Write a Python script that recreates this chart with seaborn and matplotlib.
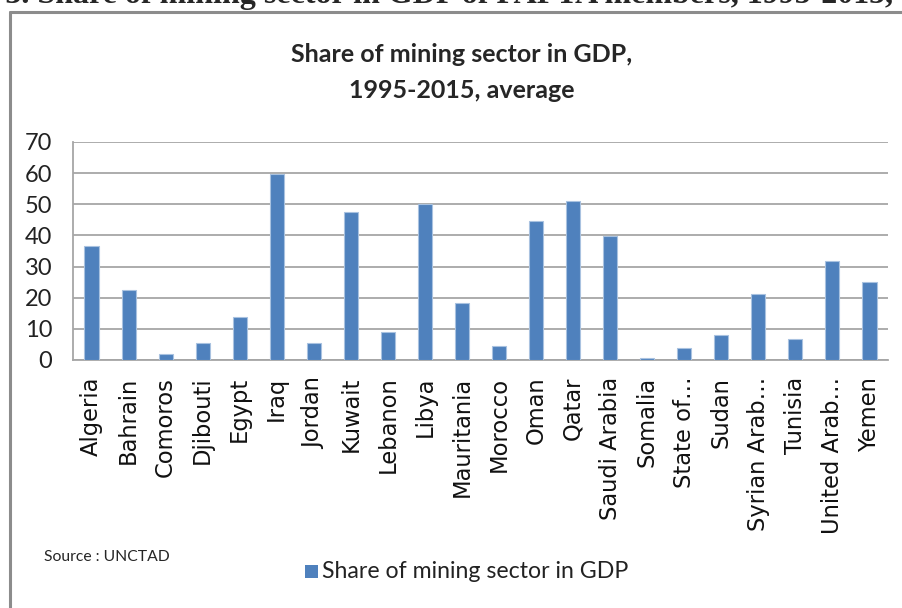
import seaborn as sns
from matplotlib import pyplot as plt
from matplotlib.patches import Rectangle
from matplotlib.lines import Line2D
import numpy as np

countries = ['Algeria', 'Bahrain', 'Comoros', 'Djibouti', 'Egypt', 'Iraq', 'Jordan',
             'Kuwait', 'Lebanon', 'Libya', 'Mauritania', 'Morocco', 'Oman', 'Qatar',
             'Saudi Arabia', 'Somalia', 'State of…', 'Sudan', 'Syrian Arab…',
             'Tunisia', 'United Arab…', 'Yemen']
share = [36.5, 22.4, 1.9, 5.6, 13.9, 59.7, 5.6, 47.6, 9.0, 50.1, 18.3, 4.6,
         44.5, 51.2, 39.8, 0.6, 3.7, 8.1, 21.1, 6.8, 31.7, 24.9]
yticks = [0, 10, 20, 30, 40, 50, 60, 70]

sns.set_style('white')
plt.rcParams['font.family'] = ['Lato', 'DejaVu Sans']

fig = plt.figure(figsize=(9.03, 6.08), dpi=100)
W, H = 903, 608
ax = fig.add_axes([73/W, 1-360/H, (888-73)/W, (360-142)/H])

# chart frame (top and left edges visible)
fig.lines.append(Line2D([10/W, 1.0], [1-11.5/H, 1-11.5/H], transform=fig.transFigure,
                        color='#8c8c8c', linewidth=2.2))
fig.lines.append(Line2D([10/W, 10/W], [0, 1-11.5/H], transform=fig.transFigure,
                        color='#8c8c8c', linewidth=2.2))

sns.barplot(x=countries, y=share, color='#4F81BD', saturation=1, width=0.38,
            edgecolor='#A9C2E0', linewidth=0.8, ax=ax, zorder=3)

ax.set_xlim(-0.5, len(countries)-0.5)
ax.set_ylim(0, 70)
ax.set_yticks(yticks)
ax.set_yticklabels([str(v) for v in yticks], fontsize=17, color='#222222')
ax.grid(axis='y', color='#a6a6a6', linewidth=1.3, zorder=0)
ax.set_axisbelow(True)
for s in ['top', 'right']:
    ax.spines[s].set_visible(False)
ax.spines['left'].set_color('#a6a6a6')
ax.spines['bottom'].set_color('#a6a6a6')
ax.spines['left'].set_linewidth(1.3)
ax.spines['bottom'].set_linewidth(1.3)
ax.tick_params(axis='y', length=5, color='#a6a6a6', width=1.3, pad=10)

ax.set_xticks(np.arange(-0.5, len(countries)), minor=True)
ax.tick_params(axis='x', which='minor', length=5.8, color='#a6a6a6', width=1.3)
ax.tick_params(axis='x', which='major', length=0, pad=12)
ax.set_xticklabels(countries, rotation=90, fontsize=16.3, family='DejaVu Sans', color='#111111')
ax.set_xlabel('')

fig.text(462/W, 1-55/H, 'Share of mining sector in GDP,', ha='center', va='center',
         fontsize=18, fontweight='bold')
fig.text(462/W, 1-90/H, '1995-2015, average', ha='center', va='center',
         fontsize=18, fontweight='bold')

fig.text(893/W, 1-3/H, 'Figure 3. Share of mining sector in GDP of PAFTA members, 1995-2015,',
         ha='right', va='baseline', fontsize=23, fontweight='bold', family='Liberation Serif')

fig.text(44/W, 1-557/H, 'Source : UNCTAD', ha='left', va='center', fontsize=11.3,
         family=['Liberation Sans Narrow', 'Lato'])

fig.patches.append(Rectangle((305/W, 1-578/H), 13/W, 13/H, transform=fig.transFigure,
                             facecolor='#4F81BD', edgecolor='none'))
fig.text(322/W, 1-572/H, 'Share of mining sector in GDP', ha='left', va='center', fontsize=16.7,
         family=['Liberation Sans Narrow', 'Lato'], color='#222222')

fig.savefig('out.png', dpi=100)
